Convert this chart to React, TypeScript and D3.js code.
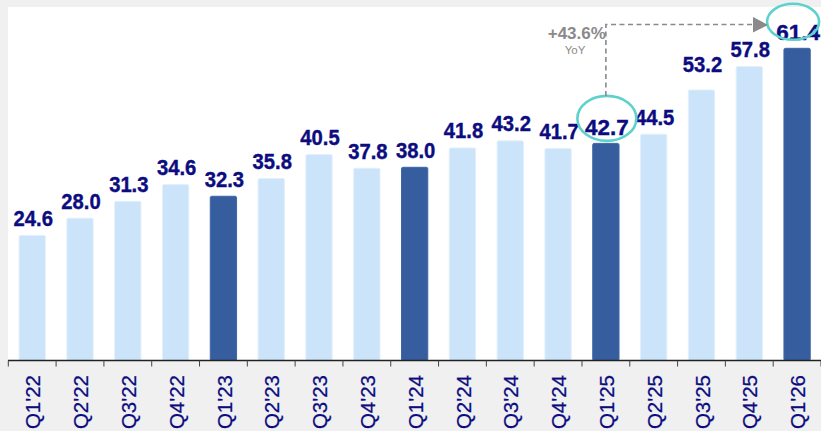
import React from "react";
import * as d3 from "d3";

const categories = ["Q1'22","Q2'22","Q3'22","Q4'22","Q1'23","Q2'23","Q3'23","Q4'23","Q1'24","Q2'24","Q3'24","Q4'24","Q1'25","Q2'25","Q3'25","Q4'25","Q1'26"];
const values = [24.6,28.0,31.3,34.6,32.3,35.8,40.5,37.8,38.0,41.8,43.2,41.7,42.7,44.5,53.2,57.8,61.4];
const highlightQuarters = ["Q1'23","Q1'24","Q1'25","Q1'26"];
const circled = ["Q1'25","Q1'26"];
const yoyLabel = "+43.6%";
const yoySub = "YoY";
const raisedLabels = ["Q3'25"];

const W = 821, H = 431;
const panel = { left: 8, top: 7, right: 821, axis: 360.5 };
const NAVY = "#0c0c80";
const LIGHT = "#cbe4fa";
const DARK = "#365e9f";
const TEAL = "#5dd2cd";
const GRAY = "#8a8a8a";
const FONT = "'Liberation Sans', Arial, sans-serif";

export default function App() {
  const x = d3.scaleBand<string>().domain(categories).range([panel.left + 0.3, panel.right]).paddingInner(0.45).paddingOuter(0.225);
  const y = d3.scaleLinear().domain([0, 61.4]).range([panel.axis, 48.3]);
  const step = x.step();
  const bw = x.bandwidth();
  const cx = (c: string) => (x(c) as number) + bw / 2;

  const fromC = circled[0], toC = circled[1];
  const fromV = values[categories.indexOf(fromC)];
  const toV = values[categories.indexOf(toC)];
  const e1 = { x: cx(fromC) + 1, y: y(fromV) - 25, rx: 29.5, ry: 22.5 };
  const e2 = { x: cx(toC) - 4, y: y(toV) - 26.5, rx: 26, ry: 18 };
  const lineY = 24.5;

  return (
    <svg width={W} height={H} style={{ position: "absolute", left: 0, top: 0 }} fontFamily={FONT}>
      <rect x={0} y={0} width={W} height={H} fill="#f0f0f0" />
      <rect x={panel.left} y={panel.top} width={panel.right - panel.left} height={panel.axis - panel.top} fill="#ffffff" />
      {categories.map((c, i) => {
        const dark = highlightQuarters.includes(c);
        const v = values[i];
        return (
          <rect key={c} x={x(c)} y={y(v)} width={bw} height={panel.axis - y(v)} rx={1.5}
            fill={dark ? DARK : LIGHT} stroke={dark ? "#3f66a6" : "#e2effc"} strokeWidth={1} />
        );
      })}
      {categories.map((c, i) => {
        const v = values[i];
        const off = raisedLabels.includes(c) ? 18 : circled.includes(c) ? 8 : 9.5;
        const big = circled.includes(c);
        return (
          <text key={"l" + c} transform={`translate(${cx(c) + 1},${y(v) - off}) scale(${big ? 1.02 : 0.92},1)`}
            textAnchor="middle" fontSize={22} fontWeight="bold" fill={NAVY}
            stroke={NAVY} strokeWidth={0.4}>{v.toFixed(1)}</text>
        );
      })}
      <line x1={panel.left} x2={panel.right} y1={panel.axis} y2={panel.axis} stroke="#222" strokeWidth={1.3} />
      {d3.range(categories.length + 1).map(i => {
        const tx = (x(categories[0]) as number) - step * 0.225 + i * step;
        return <line key={"t" + i} x1={tx} x2={tx} y1={panel.axis} y2={panel.axis + 6} stroke="#444" strokeWidth={1} />;
      })}
      {categories.map(c => (
        <text key={"a" + c} transform={`translate(${cx(c) + 1},375) rotate(-90)`} textAnchor="end" dy="0.35em"
          fontSize={20.5} fill={NAVY} stroke={NAVY} strokeWidth={0.25}>{c}</text>
      ))}
      <ellipse cx={e1.x} cy={e1.y} rx={e1.rx} ry={e1.ry} fill="none" stroke={TEAL} strokeWidth={2.6} />
      <ellipse cx={e2.x} cy={e2.y} rx={e2.rx} ry={e2.ry} fill="none" stroke={TEAL} strokeWidth={2.6} />
      <path d={`M${e1.x - 1},${e1.y - e1.ry} V${lineY} H${753}`} fill="none" stroke={GRAY} strokeWidth={1.6} strokeDasharray="5,3.5" />
      <path d={`M753,${lineY - 7.5} L768,${lineY + 0.5} L753,${lineY + 8}Z`} fill={GRAY} />
      <text x={e1.x - 1} y={39} textAnchor="end" fontSize={17} fontWeight="bold" fill={GRAY}>{yoyLabel}</text>
      <text x={575} y={54} textAnchor="middle" fontSize={11.5} fill={GRAY}>{yoySub}</text>
    </svg>
  );
}
